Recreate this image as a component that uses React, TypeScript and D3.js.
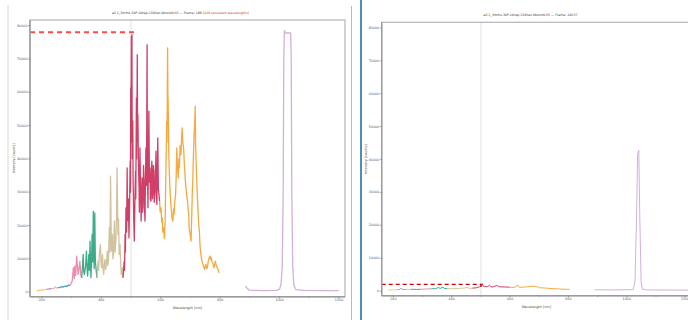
import * as d3 from 'd3'

type Pt = [number, number]

// ---- left frame (189) : wavelength [nm], counts ----
const L_YELLOW: Pt[] = [[183, 300], [190, 500], [200, 600], [210, 700], [216, 800]]
const L_VIOLET: Pt[] = [[216, 800], [222, 900], [228, 1000], [233, 1000]]
const L_SALMON: Pt[] = [[233, 1000], [240, 1100], [246, 1500], [250, 1200], [255, 1400]]
const L_BLUE: Pt[] = [[255, 1400], [260, 1300], [266, 1600], [272, 1500], [278, 1800], [284, 1700], [290, 2100], [294, 1900]]
const L_PINK: Pt[] = [[294, 1900], [298, 2500], [302, 3300], [306, 7300], [309, 4000], [311, 7800], [314, 5000], [317, 10800], [322, 5300], [325, 7000], [328, 9300], [331, 5000], [334, 4300]]
const L_GREEN: Pt[] = [[334, 4300], [336, 7000], [339, 11300], [341, 6000], [343, 5300], [347, 7800], [350, 12300], [352, 7000], [354, 4800], [356, 8000], [358, 11300], [360, 6500], [362, 15300], [365, 4300], [367, 9000], [369, 17300], [371, 9000], [373, 24300], [376, 7000], [378, 23800], [380, 9000], [382, 7300], [385, 4300]]
const L_TAN: Pt[] = [[385, 4300], [389, 9300], [391, 6500], [394, 12300], [397, 14300], [399, 9000], [401, 7300], [404, 11300], [406, 7000], [408, 5300], [412, 9800], [415, 6800], [418, 9500], [420, 12300], [422, 8000], [424, 9300], [427, 19300], [429, 12000], [431, 34800], [434, 12300], [437, 17300], [439, 10000], [441, 11300], [444, 21300], [446, 12000], [449, 15300], [451, 22000], [453, 37300], [456, 17300], [458, 22000], [460, 11300], [463, 14300], [465, 9000], [467, 5300], [470, 7300], [473, 4300]]
const L_CRIMSON: Pt[] = [[473, 4300], [475, 7000], [477, 9300], [478, 6500], [480, 17300], [481, 12000], [483, 25300], [485, 18000], [487, 37300], [488, 24000], [490, 21300], [491, 28000], [493, 16300], [495, 26000], [497, 39300], [498, 30000], [499, 61300], [500, 45000], [501, 76800], [502, 60000], [503, 77300], [504, 40000], [506, 51300], [507, 33000], [508, 29300], [509, 22000], [511, 15300], [513, 27000], [515, 36300], [516, 28000], [518, 58300], [519, 40000], [521, 71300], [522, 45000], [523, 53300], [525, 38000], [527, 31300], [528, 24000], [530, 43300], [532, 30000], [534, 21300], [535, 28000], [537, 34300], [538, 24000], [540, 25300], [542, 38000], [544, 33300], [545, 26000], [547, 21300], [548, 30000], [550, 43300], [552, 32000], [554, 74300], [555, 38000], [557, 25300], [558, 36000], [560, 54300], [562, 33000], [564, 37300], [565, 28000], [567, 27300], [568, 34000], [570, 39300], [572, 28000], [574, 30300], [575, 38000], [577, 36300], [578, 27000], [580, 29300], [582, 35000], [584, 42300], [585, 30000], [587, 26300], [588, 33000], [590, 46300], [592, 31000], [594, 29300], [596, 27300]]
const L_ORANGE: Pt[] = [[596, 27300], [598, 24000], [601, 25300], [603, 21000], [605, 22300], [607, 18000], [610, 19300], [612, 16000], [613, 17300], [615, 22000], [616, 29300], [618, 40000], [620, 51300], [621, 45000], [623, 73300], [624, 60000], [625, 56300], [627, 42000], [628, 38300], [630, 33000], [632, 29300], [634, 26000], [636, 24300], [638, 22000], [641, 21300], [643, 25000], [645, 23300], [647, 27000], [650, 29300], [652, 35000], [654, 43300], [656, 38000], [659, 34300], [661, 40000], [663, 37300], [665, 44000], [668, 41300], [670, 46000], [672, 49300], [674, 45000], [677, 43300], [679, 39000], [681, 36300], [683, 33000], [685, 31300], [687, 29000], [690, 27300], [692, 25000], [694, 23300], [696, 19000], [699, 17300], [701, 16000], [702, 15300], [704, 22000], [706, 29300], [708, 34000], [709, 38300], [711, 44000], [712, 47300], [714, 50000], [716, 55800], [717, 45000], [719, 39300], [721, 34000], [722, 31300], [724, 27000], [726, 23300], [728, 20000], [730, 18300], [732, 14000], [735, 11300], [737, 10000], [739, 9300], [741, 8500], [744, 7800], [746, 7200], [748, 6800], [750, 7800], [752, 8300], [755, 7000], [757, 7300], [759, 8800], [761, 9800], [764, 10500], [766, 10800], [768, 9800], [770, 10300], [772, 9200], [775, 8800], [777, 7800], [779, 7300], [782, 8500], [784, 9300], [786, 8200], [788, 7800], [791, 7000], [793, 6800], [795, 6000], [797, 5800]]
const L_NIR: Pt[] = [[885, 1800], [890, 1200], [897, 600], [910, 500], [950, 450], [990, 500], [1000, 900], [1005, 2500], [1009, 8000], [1012, 30000], [1014, 70000], [1016, 78500], [1020, 77800], [1030, 77800], [1037, 77800], [1039, 70000], [1041, 30000], [1044, 8000], [1048, 2000], [1055, 700], [1080, 500], [1150, 450], [1199, 450]]

// ---- right frame (10637) ----
const R_YELLOW: Pt[] = [[183, 300], [190, 350], [200, 400], [210, 400], [214, 450]]
const R_VIOLET: Pt[] = [[214, 450], [222, 500], [226, 900], [230, 500], [243, 500]]
const R_SALMON: Pt[] = [[243, 500], [250, 550], [260, 500]]
const R_BLUE: Pt[] = [[260, 500], [270, 550], [280, 500], [294, 550]]
const R_PINK: Pt[] = [[294, 550], [305, 600], [315, 650], [330, 700]]
const R_GREEN: Pt[] = [[330, 700], [345, 750], [355, 1100], [360, 800], [370, 1200], [375, 800], [385, 750]]
const R_TAN: Pt[] = [[385, 750], [400, 700], [420, 800], [440, 900], [455, 1100], [460, 800], [471, 900]]
const R_CRIMSON: Pt[] = [[471, 900], [484, 1000], [495, 1300], [501, 1500], [504, 2300], [508, 1500], [512, 1300], [524, 1400], [529, 1800], [535, 1300], [541, 1250], [554, 1700], [564, 1300], [580, 1250], [598, 1200]]
const R_ORANGE: Pt[] = [[598, 1200], [613, 1050], [627, 1800], [632, 1150], [655, 1250], [678, 1500], [695, 1250], [701, 1000], [718, 950], [735, 800], [769, 650], [804, 500]]
const R_NIR: Pt[] = [[890, 400], [953, 350], [1022, 450], [1028, 3100], [1033, 20400], [1037, 41800], [1041, 42800], [1044, 25000], [1049, 3000], [1053, 600], [1068, 350], [1182, 300], [1215, 300]]

const SEG_COLORS = ['#f0c05a', '#9b7fc4', '#f2a7a0', '#2b83ba', '#e57aa0', '#1b9e77', '#c9b88c', '#c81d4e', '#f39a1e', '#c9a3d3']
const LEFT_SEGS = [L_YELLOW, L_VIOLET, L_SALMON, L_BLUE, L_PINK, L_GREEN, L_TAN, L_CRIMSON, L_ORANGE, L_NIR]
const RIGHT_SEGS = [R_YELLOW, R_VIOLET, R_SALMON, R_BLUE, R_PINK, R_GREEN, R_TAN, R_CRIMSON, R_ORANGE, R_NIR]

const Y_TICKS = [0, 10000, 20000, 30000, 40000, 50000, 60000, 70000, 80000]
const X_MAJOR = [200, 400, 600, 800, 1000, 1200]
const X_MINOR = [300, 500, 700, 900, 1100]
const X_DOMAIN: [number, number] = [160, 1220]
const Y_DOMAIN: [number, number] = [-1400, 81700]

const FONT = 'DejaVu Sans, sans-serif'

interface PanelProps {
  left: number; top: number; right: number; bottom: number
  segs: Pt[][]
  title: string; titleRed?: string; titleX: number; titleY: number
  satLevel: number; satEnd: number; satDrop: number
  dashColor: string; dashWidth: number; dash: string
  lineWidth: number
}

function Panel(p: PanelProps) {
  const x = d3.scaleLinear().domain(X_DOMAIN).range([p.left, p.right])
  const y = d3.scaleLinear().domain(Y_DOMAIN).range([p.bottom, p.top])
  const line = d3.line<Pt>().x(d => x(d[0])).y(d => y(d[1]))
  const clipId = `clip${Math.round(p.left)}`
  const dashPath = `M${p.left},${y(p.satLevel)}H${x(p.satEnd)}V${y(p.satDrop)}`
  return (
    <g>
      <defs>
        <clipPath id={clipId}>
          <rect x={p.left} y={p.top} width={p.right - p.left} height={p.bottom - p.top} />
        </clipPath>
      </defs>
      <text x={p.titleX} y={p.titleY} fontSize={3.2} fontFamily={FONT} textAnchor="middle" fill="#333">
        {p.title}
        {p.titleRed && <tspan fill="#e03030"> {p.titleRed}</tspan>}
      </text>
      <line x1={x(500)} x2={x(500)} y1={p.top} y2={p.bottom} stroke="#e2e2e2" strokeWidth={1} />
      <g clipPath={`url(#${clipId})`}>
        {p.segs.map((s, i) => (
          <path key={i} d={line(s) || ''} fill="none" stroke={SEG_COLORS[i]} strokeWidth={p.lineWidth} strokeOpacity={0.85} strokeLinejoin="round" />
        ))}
        <path d={dashPath} fill="none" stroke={p.dashColor} strokeWidth={p.dashWidth} strokeDasharray={p.dash} />
      </g>
      <rect x={p.left} y={p.top} width={p.right - p.left} height={p.bottom - p.top} fill="none" stroke="#b4b4b4" strokeWidth={1.2} />
      <line x1={p.left} x2={p.left} y1={p.top} y2={p.bottom} stroke="#9a9a9a" strokeWidth={1.4} />
      <line x1={p.left} x2={p.right} y1={p.bottom} y2={p.bottom} stroke="#9a9a9a" strokeWidth={1.4} />
      {Y_TICKS.map(t => (
        <g key={t}>
          <line x1={p.left - 2} x2={p.left} y1={y(t)} y2={y(t)} stroke="#777" strokeWidth={0.6} />
          <text x={p.left - 2.5} y={y(t) + 1.1} fontSize={3.3} fontFamily={FONT} textAnchor="end" fill="#555">{t}</text>
        </g>
      ))}
      {X_MAJOR.map(t => (
        <g key={t}>
          <line x1={x(t)} x2={x(t)} y1={p.bottom} y2={p.bottom + 2} stroke="#777" strokeWidth={0.6} />
          <text x={x(t)} y={p.bottom + 4.6} fontSize={3.3} fontFamily={FONT} textAnchor="middle" fill="#555">{t}</text>
        </g>
      ))}
      {X_MINOR.map(t => (
        <line key={t} x1={x(t)} x2={x(t)} y1={p.bottom} y2={p.bottom + 1.5} stroke="#888" strokeWidth={0.5} />
      ))}
      <text x={(p.left + p.right) / 2} y={p.bottom + 12} fontSize={3.4} fontFamily={FONT} textAnchor="middle" fill="#444">Wavelength [nm]</text>
      <text transform={`translate(${p.left - 15},${(p.top + p.bottom) / 2}) rotate(-90)`} fontSize={3.4} fontFamily={FONT} textAnchor="middle" fill="#444">Intensity [counts]</text>
    </g>
  )
}

export default function App() {
  return (
    <svg width={688} height={320} style={{ position: 'absolute', left: 0, top: 0, background: '#fff' }}>
      <line x1={8} x2={8} y1={5} y2={320} stroke="#d8d8d8" strokeWidth={1} />
      <line x1={351.5} x2={351.5} y1={6} y2={320} stroke="#b8b8b8" strokeWidth={1} />
      <line x1={361} x2={361} y1={0} y2={320} stroke="#4d8fae" strokeWidth={2} />
      <Panel left={30} top={20} right={345} bottom={296.7} segs={LEFT_SEGS}
        title="all 1_3mms-3kP-10rep-150iter-4burst0.h5 — Frame: 189" titleRed="(249 saturated wavelengths)"
        titleX={180.5} titleY={14.3}
        satLevel={78000} satEnd={510} satDrop={77300}
        dashColor="#ff4a4a" dashWidth={2} dash="5,4" lineWidth={1.3} />
      <Panel left={381.7} top={22.3} right={691} bottom={295.7} segs={RIGHT_SEGS}
        title="all 1_3mms-3kP-10rep-150iter-4burst0.h5 — Frame: 10637"
        titleX={530.5} titleY={15.7}
        satLevel={2040} satEnd={500} satDrop={1300}
        dashColor="#cc0000" dashWidth={1.3} dash="4,3" lineWidth={1} />
    </svg>
  )
}
